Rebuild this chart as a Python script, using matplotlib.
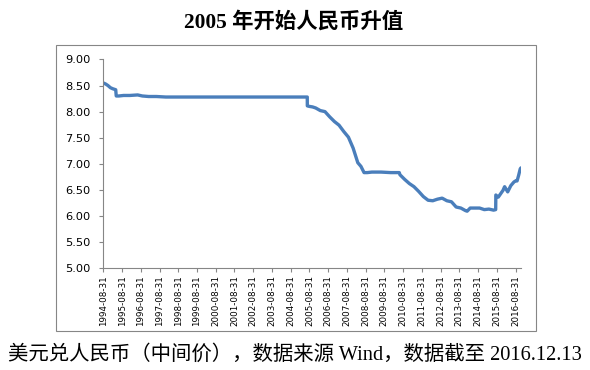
import matplotlib
matplotlib.use("Agg")
import matplotlib.pyplot as plt
from matplotlib.patches import Rectangle
import datetime as dt

# USD/CNY central parity
dates = ["1994-08-31", "1994-10-15", "1994-11-30", "1995-01-15", "1995-02-28",
         "1995-04-30", "1995-05-10", "1995-06-30", "1995-09-30", "1996-01-31",
         "1996-06-30", "1996-09-30", "1997-01-31", "1997-06-30", "1997-12-31",
         "1998-06-30", "2000-06-30", "2002-06-30", "2004-06-30", "2005-07-20",
         "2005-07-21", "2005-08-31", "2005-10-31", "2005-12-31", "2006-03-31",
         "2006-06-30", "2006-09-30", "2006-12-31", "2007-03-31", "2007-06-30",
         "2007-09-30", "2007-12-31", "2008-03-31", "2008-05-31", "2008-07-31",
         "2008-09-30", "2008-12-31", "2009-06-30", "2009-12-31", "2010-06-18",
         "2010-06-30", "2010-09-30", "2010-12-31", "2011-03-31", "2011-06-30",
         "2011-09-30", "2011-12-31", "2012-03-31", "2012-06-30", "2012-09-30",
         "2012-12-31", "2013-03-31", "2013-06-30", "2013-09-30", "2013-12-31",
         "2014-01-31", "2014-03-31", "2014-06-30", "2014-09-30", "2014-12-31",
         "2015-03-31", "2015-06-30", "2015-08-10", "2015-08-13", "2015-09-30",
         "2015-12-31", "2016-01-31", "2016-03-31", "2016-05-31", "2016-07-31",
         "2016-08-31", "2016-09-30", "2016-10-31", "2016-11-30", "2016-12-13"]
rates = [8.55, 8.53, 8.50, 8.46, 8.44,
         8.42, 8.30, 8.30, 8.31, 8.31,
         8.32, 8.30, 8.29, 8.29, 8.28,
         8.28, 8.28, 8.28, 8.28, 8.28,
         8.11, 8.10, 8.09, 8.07, 8.02,
         8.00, 7.90, 7.81, 7.74, 7.62,
         7.51, 7.30, 7.02, 6.95, 6.83,
         6.83, 6.84, 6.84, 6.83, 6.83,
         6.79, 6.70, 6.62, 6.56, 6.47,
         6.37, 6.30, 6.29, 6.32, 6.34,
         6.29, 6.27, 6.17, 6.15, 6.10,
         6.09, 6.15, 6.15, 6.15, 6.12,
         6.13, 6.11, 6.12, 6.40, 6.36,
         6.49, 6.56, 6.46, 6.58, 6.65,
         6.67, 6.67, 6.78, 6.90, 6.92]

tick_labels = ["%d-08-31" % y for y in range(1994, 2017)]
yticks = [5.00, 5.50, 6.00, 6.50, 7.00, 7.50, 8.00, 8.50, 9.00]

x = [dt.datetime.strptime(d, "%Y-%m-%d") for d in dates]
xt = [dt.datetime.strptime(s, "%Y-%m-%d") for s in tick_labels]

fig = plt.figure(figsize=(5.9, 3.7), dpi=100)
ax = fig.add_axes([0.1751, 0.2757, 0.708, 0.5635])

ax.plot(x, rates, color="#4A7EBB", lw=2.4, solid_joinstyle="round", solid_capstyle="round")

ax.set_xlim(dt.datetime(1994, 8, 31), dt.datetime(2016, 12, 16))
ax.set_ylim(5, 9)
ax.set_yticks(yticks)
ax.set_yticklabels(["%.2f" % v for v in yticks], fontsize=8.2, family="DejaVu Sans")
ax.set_xticks(xt)
ax.set_xticklabels(tick_labels, rotation=90, fontsize=6.3, family="DejaVu Sans", va="top", ha="center")

for s in ["top", "right"]:
    ax.spines[s].set_visible(False)
for s in ["left", "bottom"]:
    ax.spines[s].set_color("#868686")
    ax.spines[s].set_linewidth(0.8)
ax.tick_params(axis="y", length=3, color="#868686", pad=6)
ax.tick_params(axis="x", length=3, color="#868686", pad=2)

# outer chart border
fig.patches.append(Rectangle((56 / 590, 1 - 331 / 370), 480 / 590, 286 / 370,
                             transform=fig.transFigure, fill=False,
                             edgecolor="#868686", lw=0.8))

fig.text(294 / 590, 1 - 22 / 370, "2005 年开始人民币升值", ha="center", va="center",
         fontsize=15.4, fontweight="bold", family=["Liberation Serif", "Noto Sans CJK SC"])
fig.text(8 / 590, 1 - 355 / 370, "美元兑人民币（中间价），数据来源 Wind，数据截至 2016.12.13",
         ha="left", va="center", fontsize=14.7,
         family=["Liberation Serif", "Noto Sans CJK SC"])

fig.savefig("out.png", dpi=100)
